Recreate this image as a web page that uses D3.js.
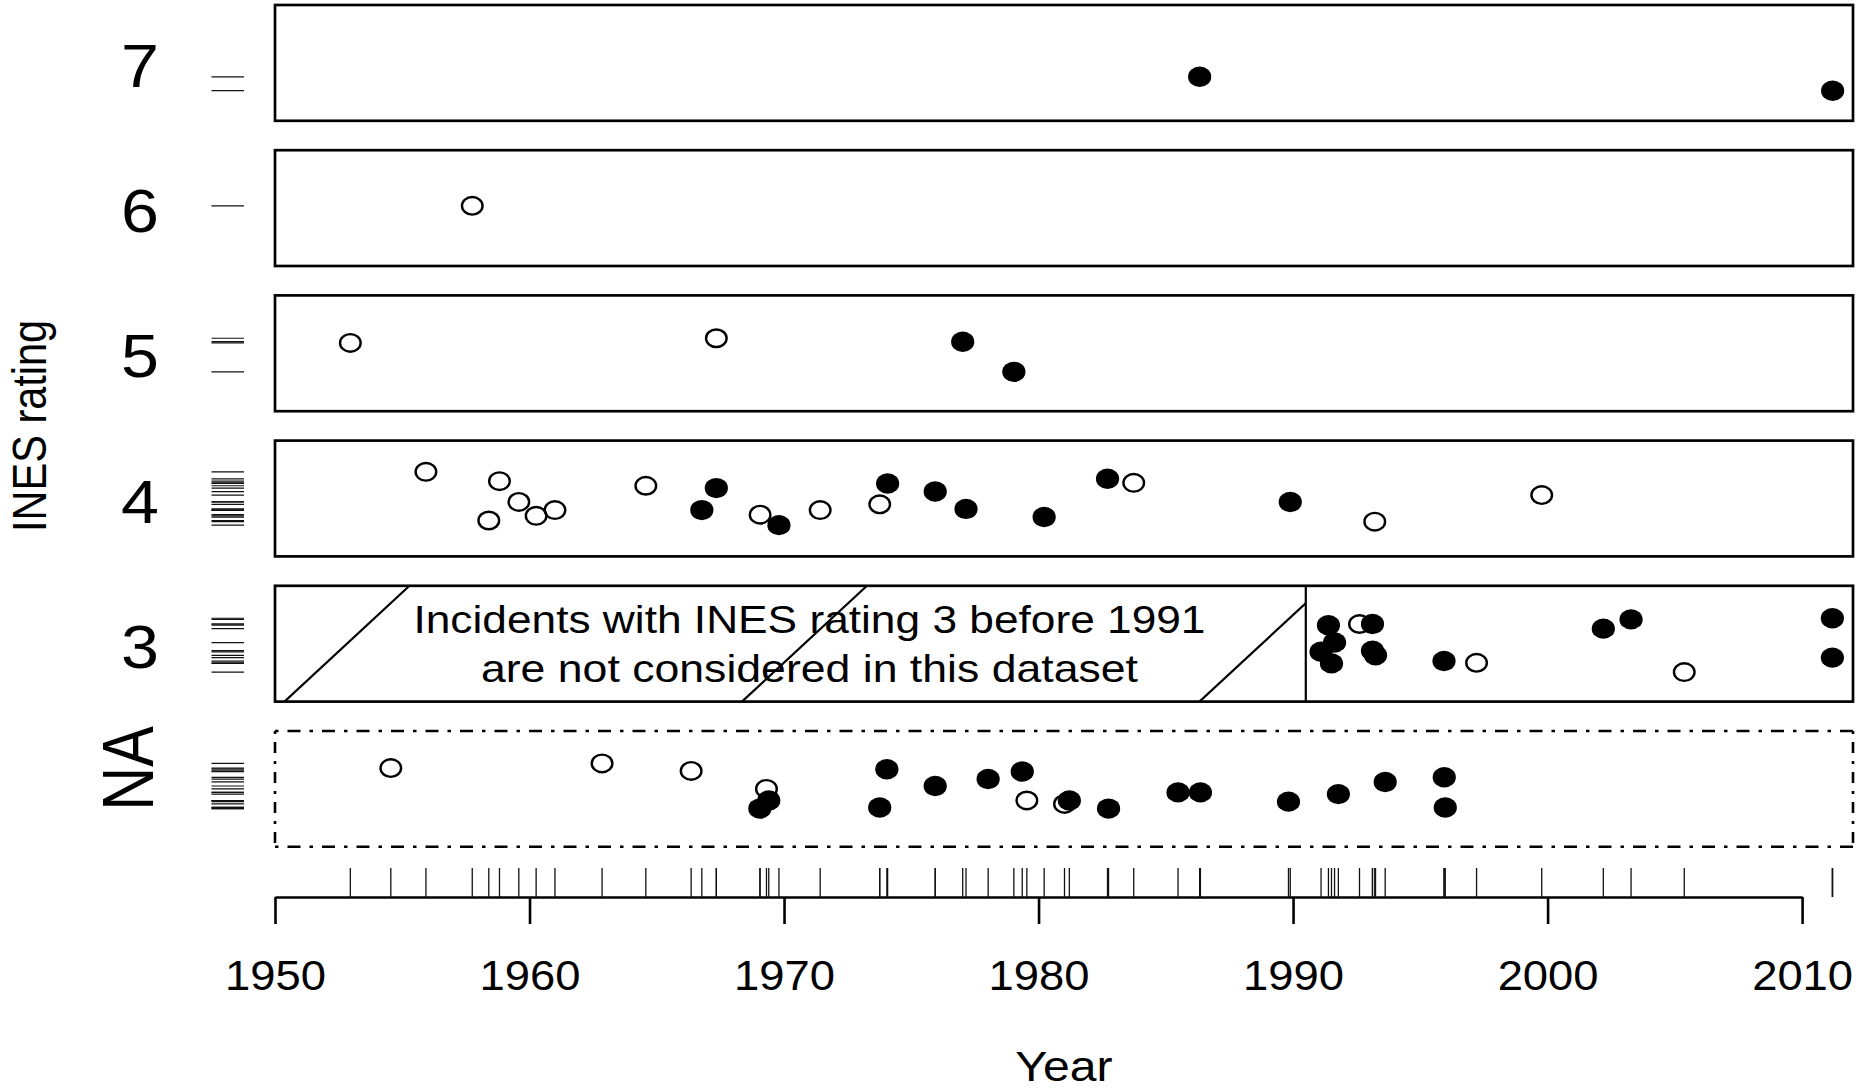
<!DOCTYPE html>
<html><head><meta charset="utf-8">
<script src="https://cdn.jsdelivr.net/npm/d3@7"></script>
<style>body{margin:0;background:#fff} svg{display:block}</style>
</head><body>
<svg id="chart" width="1866" height="1091"></svg>
<script>
// ---------- data ----------
const panelLabels = ["7", "6", "5", "4", "3", "NA"];
const xTicks = [1950, 1960, 1970, 1980, 1990, 2000, 2010];
const xLabel = "Year";
const yLabel = "INES rating";
const noteLines = ["Incidents with INES rating 3 before 1991", "are not considered in this dataset"];
const excludedFrom = 1950, excludedUntil = 1990.5;

// incident year (decimal), INES rating, vertical jitter, filled (1) / open (0)
const years = [
  1986.33, 2011.20,
  1957.75,
  1952.96, 1967.34, 1977.02, 1979.03,
  1955.93, 1958.82, 1958.40, 1959.58, 1960.26, 1961.00, 1964.57, 1967.34, 1966.77, 1969.06, 1969.80,
  1971.42, 1973.76, 1974.07, 1975.94, 1977.15, 1980.22, 1982.71, 1983.74, 1989.89, 1993.21, 1999.77,
  1991.39, 1991.63, 1991.10, 1991.51, 1992.61, 1993.12, 1993.12, 1993.24, 1995.93, 1997.21, 2002.19,
  2003.28, 2005.37, 2011.19, 2011.19,
  1954.55, 1962.85, 1966.35, 1969.31, 1969.40, 1969.05, 1974.04, 1973.76, 1975.94, 1978.02, 1979.36,
  1979.54, 1981.02, 1981.21, 1982.75, 1985.48, 1986.36, 1989.82, 1991.78, 1993.62, 1995.94, 1995.98
];
const ratings = [
  "7", "7",
  "6",
  "5", "5", "5", "5",
  "4", "4", "4", "4", "4", "4", "4", "4", "4", "4", "4",
  "4", "4", "4", "4", "4", "4", "4", "4", "4", "4", "4",
  "3", "3", "3", "3", "3", "3", "3", "3", "3", "3", "3",
  "3", "3", "3", "3",
  "NA", "NA", "NA", "NA", "NA", "NA", "NA", "NA", "NA", "NA", "NA",
  "NA", "NA", "NA", "NA", "NA", "NA", "NA", "NA", "NA", "NA", "NA"
];
const jitter = [
  -0.12, -0.24,
  0.02,
  0.09, 0.13, 0.10, -0.16,
  0.23, 0.15, -0.19, -0.03, -0.15, -0.10, 0.11, 0.09, -0.10, -0.14, -0.23,
  -0.10, -0.05, 0.13, 0.06, -0.09, -0.16, 0.17, 0.135, -0.03, -0.20, 0.03,
  0.16, 0.01, -0.07, -0.17, 0.17, 0.17, -0.06, -0.10, -0.15, -0.165, 0.13,
  0.21, -0.245, 0.22, -0.12,
  0.18, 0.22, 0.155, 0.0, -0.10, -0.17, 0.17, -0.16, 0.025, 0.085, 0.15,
  -0.10, -0.13, -0.10, -0.17, -0.03, -0.03, -0.11, -0.045, 0.06, 0.10, -0.16
];
const filled = [
  1, 1,
  0,
  0, 0, 1, 1,
  0, 0, 0, 0, 0, 0, 0, 1, 1, 0, 1,
  0, 0, 1, 1, 1, 1, 1, 0, 1, 0, 0,
  1, 1, 1, 1, 0, 1, 1, 1, 1, 0, 1,
  1, 0, 1, 1,
  0, 0, 0, 0, 1, 1, 1, 1, 1, 1, 1,
  0, 0, 1, 1, 1, 1, 1, 1, 1, 1, 1
];

// ---------- drawing ----------
const FONT = "'Liberation Sans', Arial, Helvetica, sans-serif";
const svg = d3.select("#chart");
svg.append("rect").attr("width", 1866).attr("height", 1091).attr("fill", "#fff");

const x = d3.scaleLinear().domain([1950, 2012]).range([275, 1853]);
const band = d3.scaleBand().domain(panelLabels).range([5, 846.8]).paddingInner(0.2025).paddingOuter(0);
const bw = band.bandwidth();
const yIn = r => d3.scaleLinear().domain([0.5, -0.5]).range([band(r), band(r) + bw]);

const data = years.map((yr, i) => ({ year: yr, rating: ratings[i], j: jitter[i], filled: filled[i] }));
const py = d => yIn(d.rating)(d.j);

// hatch + note in panel 3
const t3 = band("3");
svg.append("clipPath").attr("id", "hclip").append("rect")
  .attr("x", x(excludedFrom)).attr("y", t3).attr("width", x(excludedUntil) - x(excludedFrom)).attr("height", bw);
const hatchStart = x(excludedFrom) + 9.5, hatchStep = 457.5, hatchRun = 125 * bw / 115.8;
svg.append("g").attr("clip-path", "url(#hclip)").selectAll("line")
  .data(d3.range(0, 4)).join("line")
  .attr("x1", k => hatchStart + k * hatchStep).attr("y1", t3 + bw)
  .attr("x2", k => hatchStart + k * hatchStep + hatchRun).attr("y2", t3)
  .attr("stroke", "#000").attr("stroke-width", 2.2);
svg.append("line").attr("x1", x(excludedUntil)).attr("x2", x(excludedUntil))
  .attr("y1", t3).attr("y2", t3 + bw).attr("stroke", "#000").attr("stroke-width", 2.2);
const noteLen = [792, 657];
svg.selectAll("text.note").data(noteLines).join("text").attr("class", "note")
  .attr("x", x(1971)).attr("y", (d, i) => t3 + 47.5 + i * 48.5)
  .attr("text-anchor", "middle").attr("font-family", FONT).attr("font-size", 39)
  .attr("textLength", (d, i) => noteLen[i]).attr("lengthAdjust", "spacingAndGlyphs")
  .text(d => d);

// panel frames
panelLabels.forEach(r => {
  const t = band(r), b = t + bw, l = x(1950), rr = x(2012);
  if (r === "NA") {
    const g = svg.append("g").attr("stroke", "#000").attr("stroke-width", 2.6).attr("fill", "none");
    g.append("line").attr("x1", l).attr("x2", rr).attr("y1", t).attr("y2", t).attr("stroke-dasharray", "3.5 9 13 9");
    g.append("line").attr("x1", l).attr("x2", rr).attr("y1", b).attr("y2", b).attr("stroke-dasharray", "3.5 9 13 9");
    g.append("line").attr("x1", l).attr("x2", l).attr("y1", t).attr("y2", b).attr("stroke-dasharray", "3 8 11 8");
    g.append("line").attr("x1", rr).attr("x2", rr).attr("y1", t).attr("y2", b).attr("stroke-dasharray", "3 8 11 8");
  } else {
    svg.append("rect").attr("x", l).attr("y", t).attr("width", rr - l).attr("height", bw)
      .attr("fill", "none").attr("stroke", "#000").attr("stroke-width", 2.7);
  }
});

// panel labels
panelLabels.forEach(r => {
  const c = band(r) + bw / 2;
  if (r === "NA") {
    svg.append("text").attr("transform", `translate(153,${c - 20.5}) scale(1.17,1) rotate(-90)`)
      .attr("text-anchor", "middle").attr("font-family", FONT).attr("font-size", 61).text(r);
  } else {
    svg.append("text").attr("transform", `translate(140,${c + 24}) scale(1.1,1)`)
      .attr("text-anchor", "middle").attr("font-family", FONT).attr("font-size", 62).text(r);
  }
});

// y rug (left, per panel)
svg.append("g").selectAll("line").data(data).join("line")
  .attr("x1", 211.5).attr("x2", 244).attr("y1", py).attr("y2", py)
  .attr("stroke", "#111").attr("stroke-width", 1.2);

// points: open first, filled on top
const ordered = data.filter(d => !d.filled).concat(data.filter(d => d.filled));
svg.append("g").selectAll("ellipse").data(ordered).join("ellipse")
  .attr("cx", d => x(d.year)).attr("cy", py)
  .attr("rx", d => d.filled ? 11.6 : 10.3).attr("ry", d => d.filled ? 10.2 : 8.8)
  .attr("fill", d => d.filled ? "#000" : "none")
  .attr("stroke", "#000").attr("stroke-width", d => d.filled ? 0 : 2.4);

// x axis
const axisY = 897;
const axisScale = x.copy().domain([1950, 2010]).range([x(1950), x(2010)]);
const gAxis = svg.append("g").attr("transform", `translate(0,${axisY})`)
  .call(d3.axisBottom(axisScale).tickValues(xTicks).tickFormat(d3.format("d")).tickSize(27).tickSizeOuter(0));
gAxis.select(".domain").attr("stroke-width", 2.6);
gAxis.selectAll(".tick line").attr("stroke-width", 2.6);
gAxis.selectAll(".tick text").attr("y", 93).attr("dy", null)
  .attr("font-size", 42).attr("font-family", FONT).attr("transform", "scale(1.08,1)");

// x rug
svg.append("g").selectAll("line").data(data).join("line")
  .attr("x1", d => x(d.year)).attr("x2", d => x(d.year))
  .attr("y1", axisY - 29).attr("y2", axisY)
  .attr("stroke", "#111").attr("stroke-width", 1.3);

// axis titles
svg.append("text").attr("transform", `translate(${(x(1950) + x(2012)) / 2},1081) scale(1.12,1)`)
  .attr("text-anchor", "middle").attr("font-family", FONT).attr("font-size", 43).text(xLabel);
svg.append("text").attr("transform", `translate(45.5,${(band("7") + band("NA") + bw) / 2}) scale(1.17,1) rotate(-90)`)
  .attr("text-anchor", "middle").attr("font-family", FONT).attr("font-size", 41.5).text(yLabel);
</script>
</body></html>
